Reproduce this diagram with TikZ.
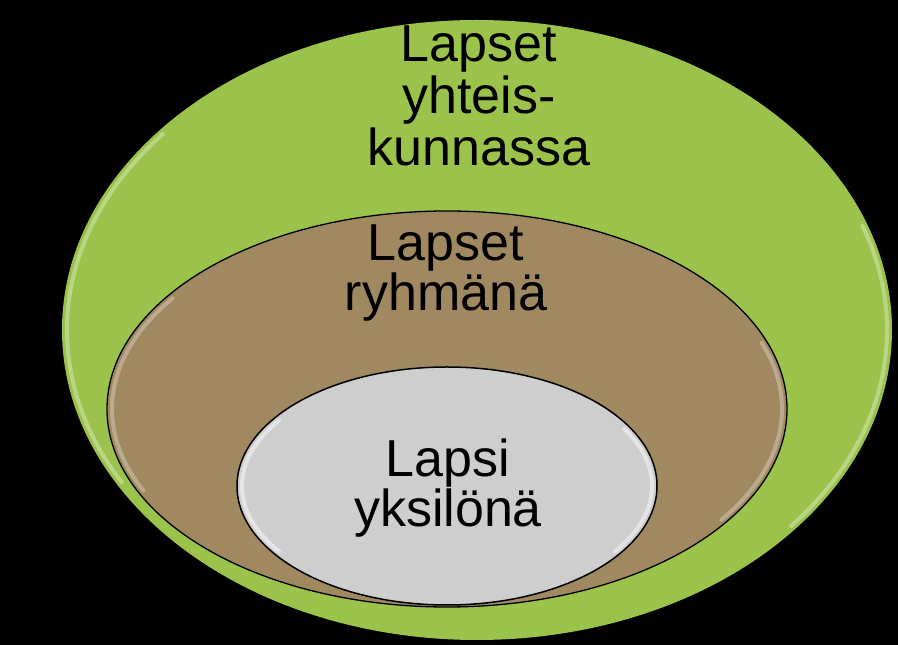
\documentclass[tikz,border=0pt]{standalone}
\usepackage{fontspec}
\setmainfont{Liberation Sans}
\definecolor{ringgreen}{RGB}{155,194,74}
\definecolor{ringbrown}{RGB}{160,136,96}
\definecolor{ringgray}{RGB}{206,206,206}
\begin{document}
\begin{tikzpicture}[x=1pt, y=1pt,
    label/.style={align=center, text=black, inner sep=0pt,
                  font=\fontsize{52}{50}\selectfont},
    gloss/.style={line width=4, opacity=0.45, line cap=round}]
    % background
    \fill[black] (0,0) rectangle (898,645);
    \useasboundingbox (0,0) rectangle (898,645);

    % community ring
    \fill[ringgreen] (477,315) ellipse (415 and 310);
    \draw[gloss, white!70!ringgreen, shift={(477,315)}]
        (140:410 and 305) arc[start angle=140, end angle=210, x radius=410, y radius=305];
    \draw[gloss, white!70!ringgreen, shift={(477,315)}]
        (-40:410 and 305) arc[start angle=-40, end angle=20, x radius=410, y radius=305];

    % group ring
    \filldraw[fill=ringbrown, draw=black, line width=1.3] (447,236) ellipse (340 and 198);
    \draw[gloss, white!65!ringbrown, shift={(447,236)}]
        (145:335 and 193) arc[start angle=145, end angle=205, x radius=335, y radius=193];
    \draw[gloss, white!65!ringbrown, shift={(447,236)}]
        (-35:335 and 193) arc[start angle=-35, end angle=20, x radius=335, y radius=193];

    % individual ring
    \filldraw[fill=ringgray, draw=black, line width=1.5] (447,159) ellipse (210 and 119);
    \draw[gloss, white, shift={(447,159)}]
        (145:205 and 114) arc[start angle=145, end angle=215, x radius=205, y radius=114];
    \draw[gloss, white, shift={(447,159)}]
        (-35:205 and 114) arc[start angle=-35, end angle=30, x radius=205, y radius=114];

    % labels
    \node[label, font=\fontsize{52}{52}\selectfont] (community) at (479,549) {Lapset\\yhteis-\\kunnassa};
    \node[label, font=\fontsize{52}{47}\selectfont] (group) at (446,372) {Lapset\\ryhmänä};
    \node[label, font=\fontsize{52}{48}\selectfont] (child) at (448,157) {Lapsi\\yksilönä};
\end{tikzpicture}
\end{document}
